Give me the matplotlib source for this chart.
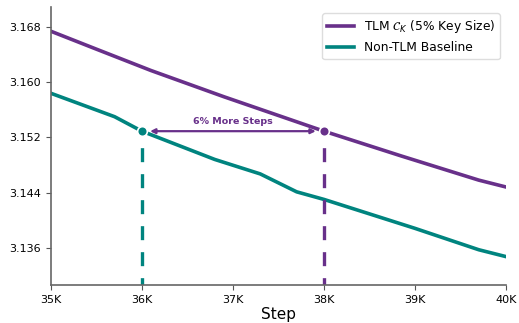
import numpy as np
import matplotlib
matplotlib.use('Agg')
import matplotlib.pyplot as plt

# datos
steps_tlm = [35000, 35500, 36100, 36900, 38000, 38850, 39700, 40000]
loss_tlm = [3.1674, 3.1648, 3.1617, 3.1579, 3.1529, 3.1493, 3.1458, 3.1448]

steps_base = [35000, 35700, 36000, 36800, 37300, 37700, 38000, 38500, 39000, 39700, 40000]
loss_base = [3.1584, 3.1550, 3.1529, 3.1488, 3.1467, 3.1441, 3.1430, 3.1409, 3.1388, 3.1357, 3.1347]

x_ticks = [35000, 36000, 37000, 38000, 39000, 40000]
x_labels = ['35K', '36K', '37K', '38K', '39K', '40K']
y_ticks = [3.136, 3.144, 3.152, 3.160, 3.168]

match_base = 36000
match_tlm = 38000
match_loss = 3.1529

purple = '#68308a'
teal = '#00847f'

fig = plt.figure(figsize=(5.19, 3.23), dpi=100)
ax = fig.add_axes([0.098, 0.118, 0.877, 0.86])

ax.plot(steps_tlm, loss_tlm, color=purple, lw=2.6, label=r'TLM $\mathcal{C}_K$ (5% Key Size)')
ax.plot(steps_base, loss_base, color=teal, lw=2.6, label='Non-TLM Baseline')

# lineas verticales y marcadores
ax.plot([match_base, match_base], [3.1306, match_loss], color=teal, lw=2.4, ls=(2.0, (4.2, 3.6)))
ax.plot([match_tlm, match_tlm], [3.1306, match_loss], color=purple, lw=2.4, ls=(2.0, (4.2, 3.6)))
ax.plot(match_base, match_loss, 'o', color=teal, ms=7, mec='white', mew=1.2, zorder=5)
ax.plot(match_tlm, match_loss, 'o', color=purple, ms=7, mec='white', mew=1.2, zorder=5)

ax.annotate('', xy=(match_base + 90, match_loss), xytext=(match_tlm - 90, match_loss),
            arrowprops=dict(arrowstyle='<|-|>', color=purple, lw=1.6,
                            mutation_scale=7, shrinkA=0, shrinkB=0))
ax.text((match_base + match_tlm) / 2, match_loss + 0.0008, '6% More Steps',
        color=purple, fontsize=6.8, fontweight='bold', ha='center', va='bottom')

ax.set_xlim(35000, 40000)
ax.set_ylim(3.1306, 3.1709)
ax.set_xticks(x_ticks)
ax.set_xticklabels(x_labels)
ax.set_yticks(y_ticks)
ax.set_yticklabels(['{:.3f}'.format(v) for v in y_ticks])
ax.tick_params(labelsize=8, color='#555555')
ax.set_xlabel('Step', fontsize=11, labelpad=2)

for s in ['top', 'right']:
    ax.spines[s].set_visible(False)
for s in ['left', 'bottom']:
    ax.spines[s].set_color('#666666')
    ax.spines[s].set_linewidth(1.2)

ax.legend(loc='upper right', fontsize=8.8, handlelength=2.2, framealpha=1,
          edgecolor='#dddddd', borderaxespad=0.5)

fig.savefig('out.png', dpi=100)
